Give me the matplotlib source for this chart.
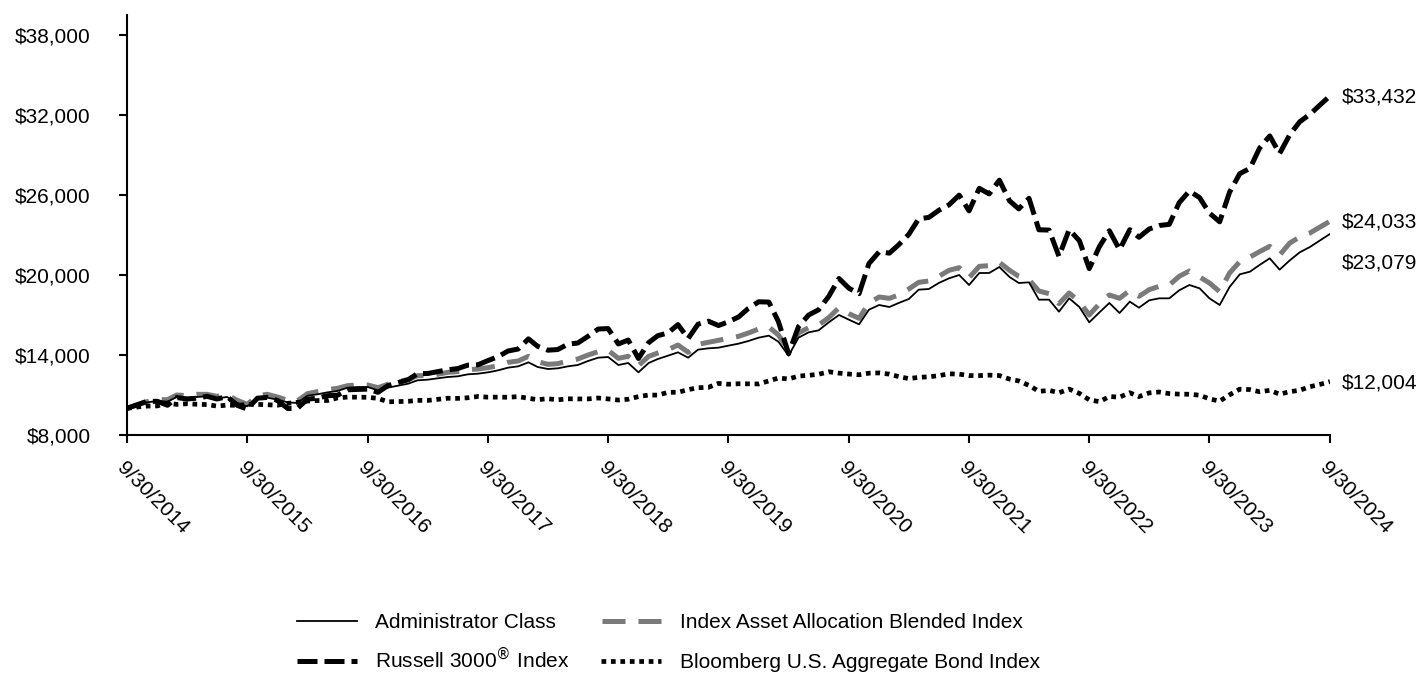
import numpy as np
import pandas as pd
import matplotlib
matplotlib.use('Agg')
import matplotlib.pyplot as plt

plt.rcParams['font.family'] = ['Liberation Sans', 'DejaVu Sans']

# month-end dates 9/30/2014 .. 9/30/2024
dates = pd.date_range('2014-09-30', '2024-09-30', freq='ME')

admin_class = [
    10000,
    10250, 10450, 10550, 10500, 10850, 10800, 10850, 10900, 10750, 10850, 10400, 10150,
    10750, 10800, 10650, 10450, 10400, 10950, 11050, 11200, 11300, 11550, 11600, 11600,
    11350, 11550, 11700, 11850, 12100, 12150, 12250, 12350, 12400, 12550, 12600, 12700,
    12850, 13050, 13150, 13450, 13100, 12950, 13000, 13150, 13250, 13550, 13800, 13850,
    13250, 13400, 12700, 13400, 13700, 13950, 14200, 13800, 14400, 14500, 14550, 14700,
    14850, 15050, 15300, 15450, 15000, 13950, 15300, 15700, 15850, 16450, 17000, 16650,
    16300, 17400, 17750, 17600, 17900, 18200, 18900, 18950, 19400, 19750, 20000, 19250,
    20150, 20150, 20600, 19850, 19400, 19450, 18150, 18150, 17250, 18250, 17600, 16450,
    17200, 17900, 17150, 18000, 17550, 18100, 18250, 18250, 18850, 19250, 19000, 18250,
    17750, 19100, 20050, 20250, 20750, 21250, 20400, 21100, 21700, 22100, 22600, 23079,
]

blended_index = [
    10000,
    10250, 10500, 10650, 10650, 11000, 10950, 11050, 11050, 10900, 11000, 10600, 10300,
    10950, 11050, 10850, 10600, 10550, 11100, 11250, 11400, 11500, 11700, 11750, 11750,
    11550, 11800, 12000, 12150, 12450, 12450, 12550, 12700, 12750, 12900, 12950, 13050,
    13200, 13450, 13550, 13900, 13500, 13300, 13350, 13550, 13700, 14000, 14250, 14350,
    13750, 13900, 13200, 13900, 14150, 14400, 14750, 14200, 14800, 14950, 15100, 15250,
    15400, 15650, 15950, 16100, 15500, 14400, 15650, 16050, 16250, 16800, 17550, 17100,
    16750, 17900, 18350, 18250, 18500, 18950, 19450, 19550, 19900, 20350, 20550, 19800,
    20650, 20700, 20950, 20350, 19900, 19650, 18800, 18600, 17850, 18650, 18000, 17000,
    17850, 18500, 18250, 18850, 18400, 18900, 19150, 19250, 19900, 20300, 19850, 19400,
    18750, 20150, 21000, 21350, 21750, 22150, 21500, 22400, 22850, 23150, 23600, 24033,
]

russell_3000 = [
    10000,
    10275, 10525, 10525, 10230, 10810, 10700, 10760, 10900, 10700, 10880, 10220, 9950,
    10760, 10820, 10590, 9990, 9990, 10690, 10760, 10950, 10980, 11390, 11420, 11440,
    11200, 11700, 11930, 12150, 12600, 12610, 12750, 12890, 12980, 13240, 13270, 13580,
    13880, 14300, 14450, 15210, 14650, 14360, 14410, 14810, 14900, 15400, 15950, 15980,
    14830, 15120, 13740, 14930, 15450, 15660, 16280, 15240, 16310, 16540, 16210, 16490,
    16850, 17500, 17990, 17970, 16510, 14100, 16130, 17000, 17390, 18400, 19740, 19010,
    18600, 20860, 21740, 21640, 22260, 23050, 24210, 24320, 24850, 25260, 25990, 24810,
    26500, 26080, 27110, 25560, 24960, 25750, 23390, 23370, 21400, 23410, 22570, 20480,
    22140, 23320, 21900, 23400, 22830, 23450, 23710, 23800, 25420, 26300, 25800, 24640,
    23990, 26210, 27600, 28000, 29510, 30430, 29110, 30530, 31490, 32050, 32760, 33432,
]

bond_index = [
    10000,
    10098, 10170, 10180, 10393, 10295, 10343, 10306, 10281, 10169, 10239, 10224, 10293,
    10295, 10268, 10234, 10375, 10449, 10545, 10585, 10588, 10778, 10846, 10834, 10828,
    10745, 10491, 10506, 10527, 10597, 10592, 10674, 10756, 10746, 10792, 10889, 10837,
    10843, 10829, 10879, 10753, 10652, 10720, 10640, 10716, 10704, 10706, 10775, 10706,
    10621, 10684, 10880, 10996, 10990, 11201, 11204, 11403, 11546, 11571, 11871, 11808,
    11843, 11837, 11829, 12056, 12273, 12201, 12418, 12476, 12554, 12741, 12639, 12571,
    12515, 12638, 12655, 12564, 12382, 12228, 12324, 12364, 12451, 12590, 12566, 12457,
    12454, 12490, 12458, 12190, 12054, 11719, 11274, 11347, 11169, 11442, 11119, 10638,
    10500, 10886, 10837, 11171, 10882, 11158, 11226, 11104, 11064, 11057, 10986, 10707,
    10538, 11015, 11437, 11406, 11244, 11348, 11062, 11249, 11356, 11621, 11798, 12004,
]

end_labels = ['$23,079', '$24,033', '$33,432', '$12,004']
label_shift = [-29, -1, -1, -1]   # pixels, so the two close labels don't collide

fig = plt.figure(figsize=(14.23, 6.73), dpi=100)
ax = fig.add_axes([127/1423, 1-435/673, (1330-127)/1423, (435-15)/673])

lw = 3.6
l_blend, = ax.plot(dates, blended_index, color='#7a7a7a', lw=lw, dashes=(4.6, 2.6),
                   label='Index Asset Allocation Blended Index')
l_russ, = ax.plot(dates, russell_3000, color='black', lw=lw, dashes=(4.0, 1.4),
                  label='Russell 3000$^{\\circledR}$ Index')
l_bond, = ax.plot(dates, bond_index, color='black', lw=3.4, dashes=(1, 1),
                  label='Bloomberg U.S. Aggregate Bond Index')
l_admin, = ax.plot(dates, admin_class, color='black', lw=1.3,
                   label='Administrator Class')

series = [admin_class, blended_index, russell_3000, bond_index]
for vals, txt, dy in zip(series, end_labels, label_shift):
    ax.annotate(txt, xy=(dates[-1], vals[-1]), xytext=(12, dy),
                textcoords='offset pixels', ha='left', va='center', fontsize=15)

ax.set_xlim(dates[0], dates[-1])
ax.set_ylim(8000, 39500)
ax.set_yticks(np.arange(8000, 38001, 6000))
ax.set_yticklabels(['${:,.0f}'.format(v) for v in np.arange(8000, 38001, 6000)])

tick_dates = dates[::12]
ax.set_xticks(tick_dates)
ax.set_xticklabels(['{}/{}/{}'.format(d.month, d.day, d.year) for d in tick_dates],
                   rotation=-45, ha='left', va='top', rotation_mode='anchor')

for side in ['top', 'right']:
    ax.spines[side].set_visible(False)
for side in ['left', 'bottom']:
    ax.spines[side].set_linewidth(1.5)
ax.tick_params(axis='y', length=6, width=1.5, labelsize=15, pad=20)
ax.tick_params(axis='x', length=6, width=1.5, labelsize=15, pad=11)

# one legend per row so the texts in a row share a baseline
leg_kw = dict(ncol=2, loc='upper left', frameon=False, fontsize=15,
              handlelength=2.86, handletextpad=0.9, borderpad=0, borderaxespad=0)
fig.legend(handles=[l_admin, l_blend], bbox_to_anchor=(297/1423, 1-613/673),
           columnspacing=2.18, **leg_kw)
fig.legend(handles=[l_russ, l_bond], bbox_to_anchor=(297/1423, 1-646/673),
           columnspacing=1.5, **leg_kw)

fig.savefig('out.png', dpi=100)
